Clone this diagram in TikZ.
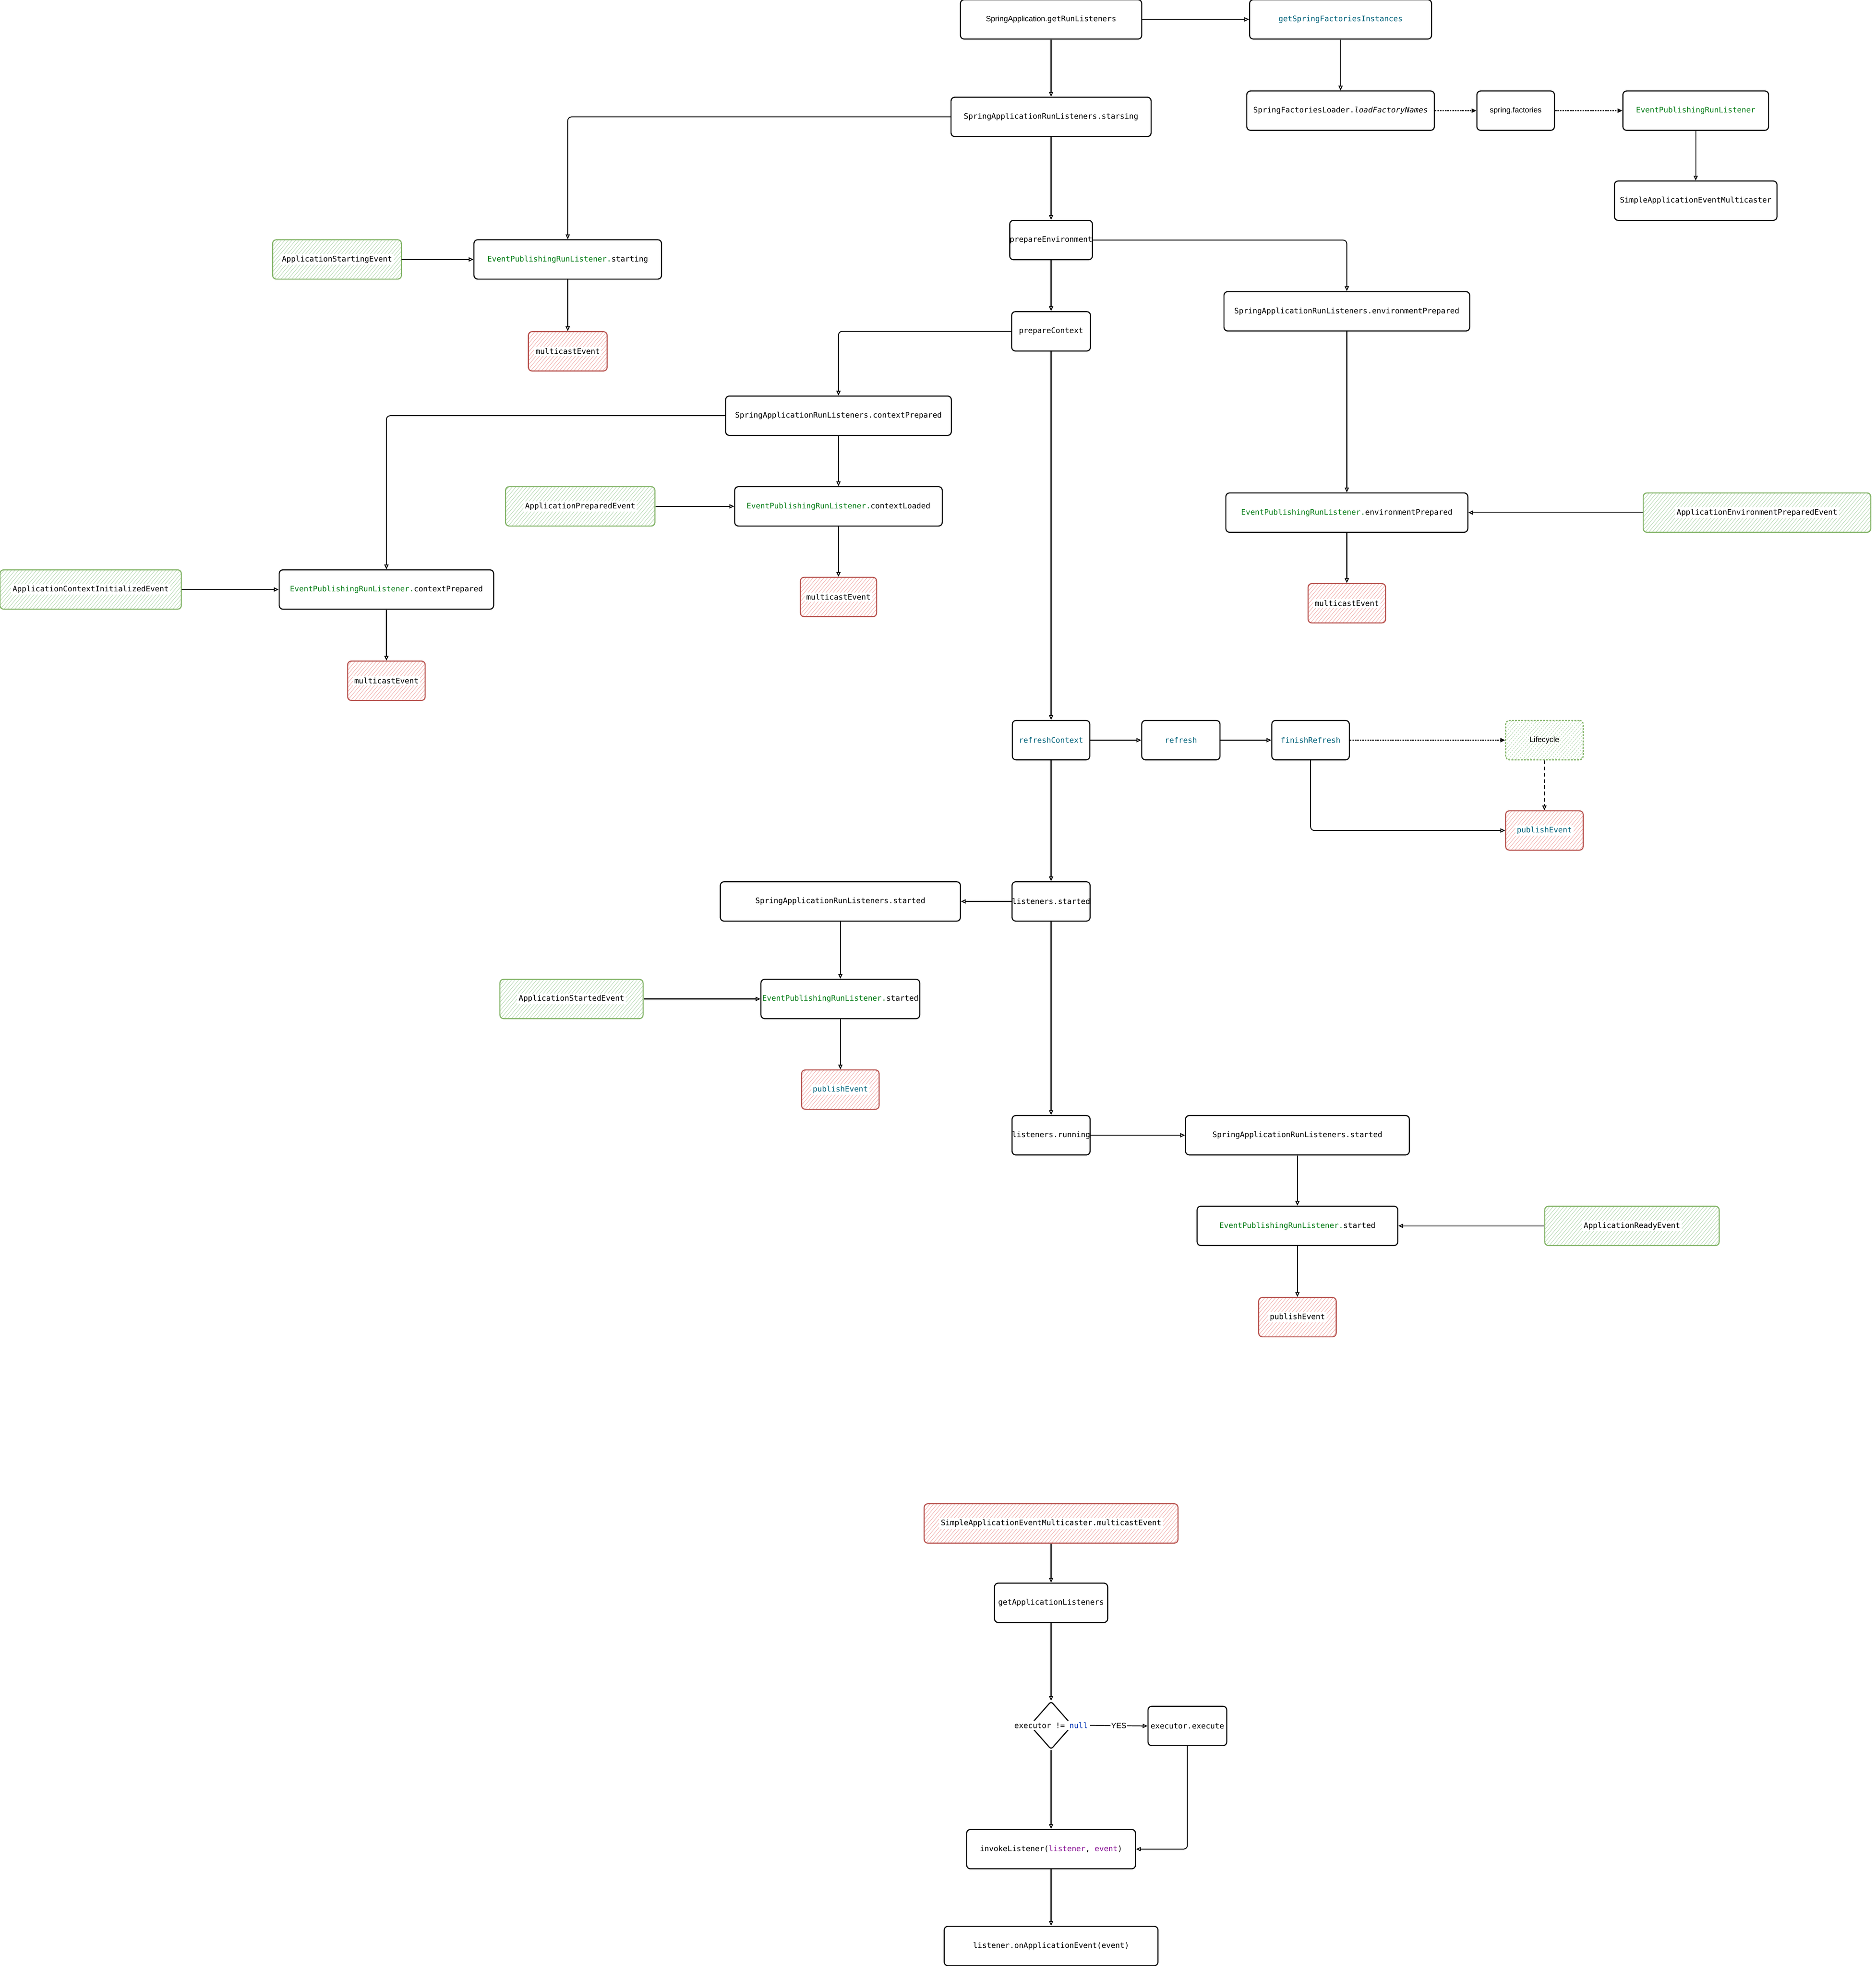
\documentclass[tikz,border=0pt]{standalone}
\usepackage{fontspec}
\setmainfont{Liberation Sans}
\setsansfont{Liberation Sans}
\setmonofont{DejaVu Sans Mono}
\usetikzlibrary{arrows.meta,shapes.geometric,patterns.meta}

\definecolor{methodteal}{RGB}{0,98,122}
\definecolor{classgreen}{RGB}{6,125,23}
\definecolor{argpurple}{RGB}{135,16,148}
\definecolor{nullblue}{RGB}{0,51,179}
\definecolor{evgreen}{HTML}{82B366}
\definecolor{evgreenfill}{HTML}{BFDDBC}
\definecolor{mcred}{HTML}{B85450}
\definecolor{mcredfill}{HTML}{F2B8B6}

\newcommand{\epr}{\textcolor{classgreen}{EventPublishingRunListener.}}
\newcommand{\onwhite}[1]{{\setlength{\fboxsep}{1.2pt}\colorbox{white}{#1}}}

\tikzset{every picture/.style={line width=0.75pt}}
\tikzset{
  callbox/.style={draw, rounded corners=3pt, line width=0.85pt, fill=white, inner xsep=0pt, inner ysep=0pt,
    font=\ttfamily\fontsize{6.1}{7}\selectfont, minimum height=31.5pt},
  eventbox/.style={callbox, draw=evgreen, pattern={Lines[angle=50,distance=2.2pt,line width=0.45pt]}, pattern color=evgreenfill},
  firebox/.style={callbox, draw=mcred, pattern={Lines[angle=50,distance=2.2pt,line width=0.45pt]}, pattern color=mcredfill},
  cond/.style={diamond, draw, line width=0.85pt, rounded corners=2pt, inner sep=0pt, minimum width=34pt, minimum height=38.5pt},
  flow/.style={-{Triangle[open,length=3.8pt,width=3.4pt]}, line width=0.7pt, rounded corners=3pt},
  hint/.style={flow, dash pattern=on 1.2pt off 0.8pt, line width=1.1pt},
  yeslabel/.style={fill=white, inner sep=0.6pt, font=\sffamily\fontsize{6.1}{7}\selectfont},
}

\begin{document}
\begin{tikzpicture}[x=1pt,y=1pt,yscale=-1]
\useasboundingbox (0,0) rectangle (1500,1572.5);

%Rounded Rect main column
\node[callbox, minimum width=145pt] (getRun) at (840.5,15.5) {\textsf{SpringApplication.}getRunListeners};
\node[callbox, minimum width=160pt] (starsing) at (840.5,93.5) {SpringApplicationRunListeners.starsing};
\node[callbox, minimum width=63pt] (prepEnv) at (840.5,192) {prepareEnvironment};
\node[callbox, minimum width=63pt] (prepCtx) at (840.5,265) {prepareContext};
\node[callbox, minimum width=62pt, text=methodteal] (refreshCtx) at (840.5,592) {refreshContext};
\node[callbox, minimum width=62pt] (lsStarted) at (840.5,721) {listeners.started};
\node[callbox, minimum width=62pt] (lsRunning) at (840.5,908) {listeners.running};

%Rounded Rect factories
\node[callbox, minimum width=145.5pt, text=methodteal] (getSFI) at (1072,15.5) {getSpringFactoriesInstances};
\node[callbox, minimum width=150pt] (loadFN) at (1072,88.5) {SpringFactoriesLoader.\textit{loadFactoryNames}};
\node[callbox, minimum width=62pt] (springFac) at (1212,88.5) {\textsf{spring.factories}};
\node[callbox, minimum width=116.5pt, text=classgreen] (eprlTop) at (1356,88.5) {EventPublishingRunListener};
\node[callbox, minimum width=130pt] (simpleMC) at (1356,160.5) {SimpleApplicationEventMulticaster};

%Rounded Rect starting
\node[eventbox, minimum width=103pt] (appStarting) at (269.5,207.5) {\onwhite{ApplicationStartingEvent}};
\node[callbox, minimum width=150pt] (starting) at (454,207.5) {\epr starting};
\node[firebox, minimum width=63pt] (mcStarting) at (454,281) {\onwhite{multicastEvent}};

%Rounded Rect environment
\node[callbox, minimum width=196.5pt] (sarlEnv) at (1077,249) {SpringApplicationRunListeners.environmentPrepared};
\node[callbox, minimum width=193.5pt] (eprlEnv) at (1077,410) {\epr environmentPrepared};
\node[eventbox, minimum width=182pt] (appEnvPrep) at (1405,410) {\onwhite{ApplicationEnvironmentPreparedEvent}};
\node[firebox, minimum width=62pt] (mcEnv) at (1077,482.5) {\onwhite{multicastEvent}};

%Rounded Rect context
\node[callbox, minimum width=180.5pt] (sarlCtx) at (670.5,332.5) {SpringApplicationRunListeners.contextPrepared};
\node[callbox, minimum width=166pt] (eprlLoaded) at (670.5,405) {\epr contextLoaded};
\node[eventbox, minimum width=119.5pt] (appPrepared) at (464,405) {\onwhite{ApplicationPreparedEvent}};
\node[firebox, minimum width=61pt] (mcLoaded) at (670.5,477.5) {\onwhite{multicastEvent}};
\node[callbox, minimum width=171.5pt] (eprlCtx) at (309,471.5) {\epr contextPrepared};
\node[eventbox, minimum width=145pt] (appCtxInit) at (72.5,471.5) {\onwhite{ApplicationContextInitializedEvent}};
\node[firebox, minimum width=62pt] (mcCtx) at (309,544.5) {\onwhite{multicastEvent}};

%Rounded Rect refresh
\node[callbox, minimum width=62.6pt, text=methodteal] (refresh) at (944.3,592) {refresh};
\node[callbox, minimum width=62pt, text=methodteal] (finish) at (1048,592) {finishRefresh};
\node[eventbox, minimum width=62pt, dash pattern=on 1.5pt off 1pt] (lifecycle) at (1235,592) {\textsf{Lifecycle}};
\node[firebox, minimum width=62pt] (pubRefresh) at (1235,664.25) {\onwhite{\textcolor{methodteal}{publishEvent}}};

%Rounded Rect started
\node[callbox, minimum width=192pt] (sarlStartedL) at (672,721) {SpringApplicationRunListeners.started};
\node[callbox, minimum width=127pt] (eprlStartedL) at (672,799) {\epr started};
\node[eventbox, minimum width=114.5pt] (appStarted) at (457,799) {\onwhite{ApplicationStartedEvent}};
\node[firebox, minimum width=62pt] (pubStartedL) at (672,871.5) {\onwhite{\textcolor{methodteal}{publishEvent}}};

%Rounded Rect running
\node[callbox, minimum width=179pt] (sarlStartedR) at (1037.5,908) {SpringApplicationRunListeners.started};
\node[callbox, minimum width=160.5pt] (eprlStartedR) at (1037.5,980.5) {\epr started};
\node[eventbox, minimum width=139.5pt] (appReady) at (1305,980.5) {\onwhite{ApplicationReadyEvent}};
\node[firebox, minimum width=62pt] (pubRunning) at (1037.5,1053.5) {\onwhite{publishEvent}};

%Rounded Rect multicast
\node[firebox, minimum width=203pt] (mcSimple) at (840.5,1218.5) {\onwhite{SimpleApplicationEventMulticaster.multicastEvent}};
\node[callbox, minimum width=90.5pt] (getAppL) at (840.5,1282) {getApplicationListeners};
\node[cond] (check) at (840.5,1380) {};
\node[fill=white, inner sep=1.5pt, font=\ttfamily\fontsize{6.1}{7}\selectfont] (condText) at (check) {executor != \textcolor{nullblue}{null}};
\node[callbox, minimum width=63pt] (exec) at (949.5,1380.5) {executor.execute};
\node[callbox, minimum width=135pt] (invoke) at (840.5,1479) {invokeListener(\textcolor{argpurple}{listener}, \textcolor{argpurple}{event})};
\node[callbox, minimum width=171pt] (onApp) at (840.5,1556.5) {listener.onApplicationEvent(event)};

%Straight Lines
\draw[flow] (getRun) -- (getSFI);
\draw[flow] (getRun) -- (starsing);
\draw[flow] (getSFI) -- (loadFN);
\draw[hint] (loadFN) -- (springFac);
\draw[hint] (springFac) -- (eprlTop);
\draw[flow] (eprlTop) -- (simpleMC);
\draw[flow] (starsing.west) -| (starting.north);
\draw[flow] (starsing) -- (prepEnv);
\draw[flow] (appStarting) -- (starting);
\draw[flow] (starting) -- (mcStarting);
\draw[flow] (prepEnv) -- (prepCtx);
\draw[flow] (prepEnv.east) -| (sarlEnv.north);
\draw[flow] (sarlEnv) -- (eprlEnv);
\draw[flow] (appEnvPrep) -- (eprlEnv);
\draw[flow] (eprlEnv) -- (mcEnv);
\draw[flow] (prepCtx.west) -| (sarlCtx.north);
\draw[flow] (sarlCtx) -- (eprlLoaded);
\draw[flow] (appPrepared) -- (eprlLoaded);
\draw[flow] (eprlLoaded) -- (mcLoaded);
\draw[flow] (sarlCtx.west) -| (eprlCtx.north);
\draw[flow] (appCtxInit) -- (eprlCtx);
\draw[flow] (eprlCtx) -- (mcCtx);
\draw[flow] (prepCtx) -- (refreshCtx);
\draw[flow] (refreshCtx) -- (refresh);
\draw[flow] (refresh) -- (finish);
\draw[hint] (finish) -- (lifecycle);
\draw[flow, dash pattern=on 3pt off 2pt] (lifecycle) -- (pubRefresh);
\draw[flow] (finish.south) |- (pubRefresh.west);
\draw[flow] (refreshCtx) -- (lsStarted);
\draw[flow] (lsStarted) -- (sarlStartedL);
\draw[flow] (sarlStartedL) -- (eprlStartedL);
\draw[flow] (appStarted) -- (eprlStartedL);
\draw[flow] (eprlStartedL) -- (pubStartedL);
\draw[flow] (lsStarted) -- (lsRunning);
\draw[flow] (lsRunning) -- (sarlStartedR);
\draw[flow] (sarlStartedR) -- (eprlStartedR);
\draw[flow] (appReady) -- (eprlStartedR);
\draw[flow] (eprlStartedR) -- (pubRunning);
\draw[flow] (mcSimple) -- (getAppL);
\draw[flow] (getAppL) -- (check);
\draw[flow] (condText.east) -- node[yeslabel] {YES} (exec.west);
\draw[flow] (check) -- (invoke);
\draw[flow] (exec.south) |- (invoke.east);
\draw[flow] (invoke) -- (onApp);

\end{tikzpicture}
\end{document}
